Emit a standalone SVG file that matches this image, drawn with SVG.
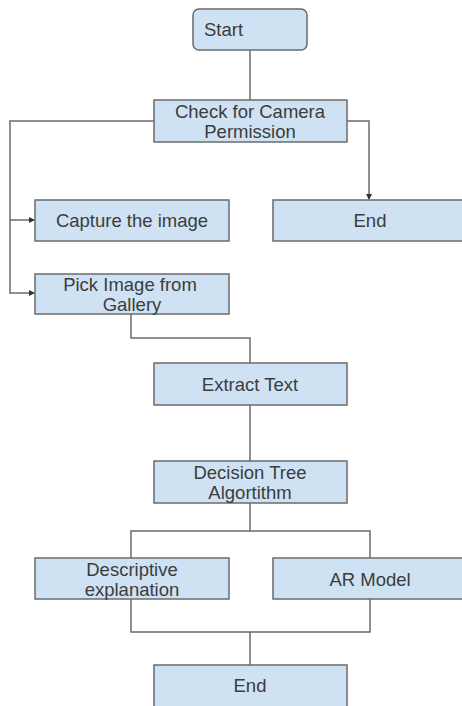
<svg xmlns="http://www.w3.org/2000/svg" width="462" height="706" viewBox="0 0 462 706">
<style>
.box{fill:#cfe2f3;stroke:#6b6b6b;stroke-width:1.5}
.t{font-family:"Liberation Sans",Arial,sans-serif;font-size:18.5px;fill:#3c3c3c;text-anchor:middle}
.c{fill:none;stroke:#6b6b6b;stroke-width:1.5}
</style>
<defs>
<marker id="ah" viewBox="0 0 6 6" refX="5" refY="3" markerWidth="4" markerHeight="4" orient="auto" markerUnits="strokeWidth">
<path d="M0,0 L6,3 L0,6 z" fill="#333"/>
</marker>
</defs>
<rect width="462" height="706" fill="#fff"/>
<g id="connectors">
<path class="c" d="M250,50 V100"/>
<path class="c" d="M154,121 H10 V293 H34" marker-end="url(#ah)"/>
<path class="c" d="M10,220 H34" marker-end="url(#ah)"/>
<path class="c" d="M347,121 H369 V199" marker-end="url(#ah)"/>
<path class="c" d="M131,314 V338 H250 V363"/>
<path class="c" d="M250,405 V461"/>
<path class="c" d="M250,503 V531 M131,558 V531 H370 V558"/>
<path class="c" d="M131,599 V632 H370 V599 M250,632 V665"/>
</g>
<g id="start"><rect class="box" x="193" y="9" width="114" height="41" rx="6"/><text class="t" x="204" y="36" style="text-anchor:start">Start</text></g>
<g id="check"><rect class="box" x="154" y="100" width="193" height="42"/><text class="t" x="250" y="118">Check for Camera</text><text class="t" x="250" y="138">Permission</text></g>
<g id="capture"><rect class="box" x="35" y="200" width="194" height="41"/><text class="t" x="132" y="227">Capture the image</text></g>
<g id="end1"><rect class="box" x="273" y="200" width="194" height="41"/><text class="t" x="370" y="227">End</text></g>
<g id="pick"><rect class="box" x="35" y="274" width="194" height="40"/><text class="t" x="130" y="291">Pick Image from</text><text class="t" x="132" y="311">Gallery</text></g>
<g id="extract"><rect class="box" x="154" y="363" width="193" height="42"/><text class="t" x="250" y="391">Extract Text</text></g>
<g id="decision"><rect class="box" x="154" y="461" width="193" height="42"/><text class="t" x="250" y="479">Decision Tree</text><text class="t" x="250" y="499">Algortithm</text></g>
<g id="descriptive"><rect class="box" x="35" y="558" width="194" height="41"/><text class="t" x="132" y="576">Descriptive</text><text class="t" x="132" y="596">explanation</text></g>
<g id="ar"><rect class="box" x="273" y="558" width="194" height="41"/><text class="t" x="370" y="586">AR Model</text></g>
<g id="end2"><rect class="box" x="154" y="665" width="193" height="45"/><text class="t" x="250" y="692">End</text></g>
</svg>
